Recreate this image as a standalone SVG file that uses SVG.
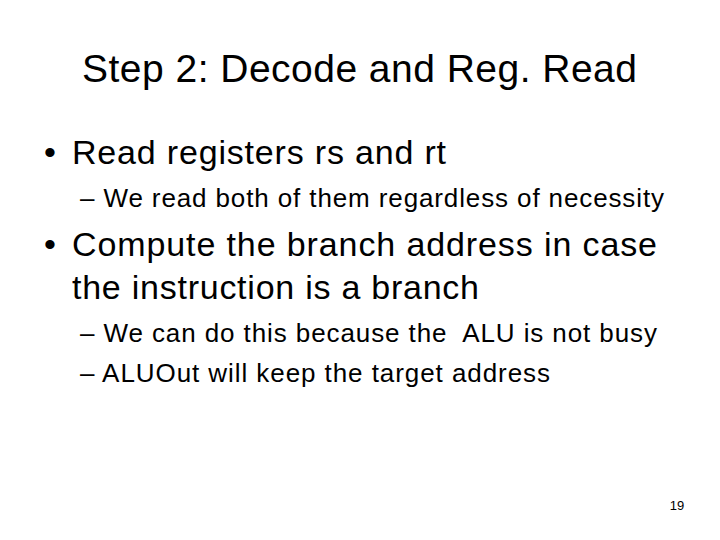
<svg xmlns="http://www.w3.org/2000/svg" width="720" height="540" viewBox="0 0 720 540">
<style>
text{font-family:"Liberation Sans",Arial,sans-serif;fill:#000}
.t{font-size:39px}
.b{font-size:34px}
.s{font-size:26px}
</style>
<rect width="720" height="540" fill="#fff"/>
<text class="t" x="82" y="82" textLength="555" lengthAdjust="spacing">Step 2: Decode and Reg. Read</text>
<text class="b" x="44" y="164">•</text>
<text class="b" x="72" y="164" textLength="374" lengthAdjust="spacing">Read registers rs and rt</text>
<text class="s" x="80" y="207" textLength="584" lengthAdjust="spacing">– We read both of them regardless of necessity</text>
<text class="b" x="44" y="256">•</text>
<text class="b" x="72" y="256" textLength="585" lengthAdjust="spacing">Compute the branch address in case</text>
<text class="b" x="72" y="299" textLength="407" lengthAdjust="spacing">the instruction is a branch</text>
<text class="s" x="80" y="342" textLength="577" lengthAdjust="spacing" xml:space="preserve">– We can do this because the  ALU is not busy</text>
<text class="s" x="80" y="382" textLength="470" lengthAdjust="spacing">– ALUOut will keep the target address</text>
<text x="677" y="510" font-size="13" text-anchor="middle">19</text>
</svg>
